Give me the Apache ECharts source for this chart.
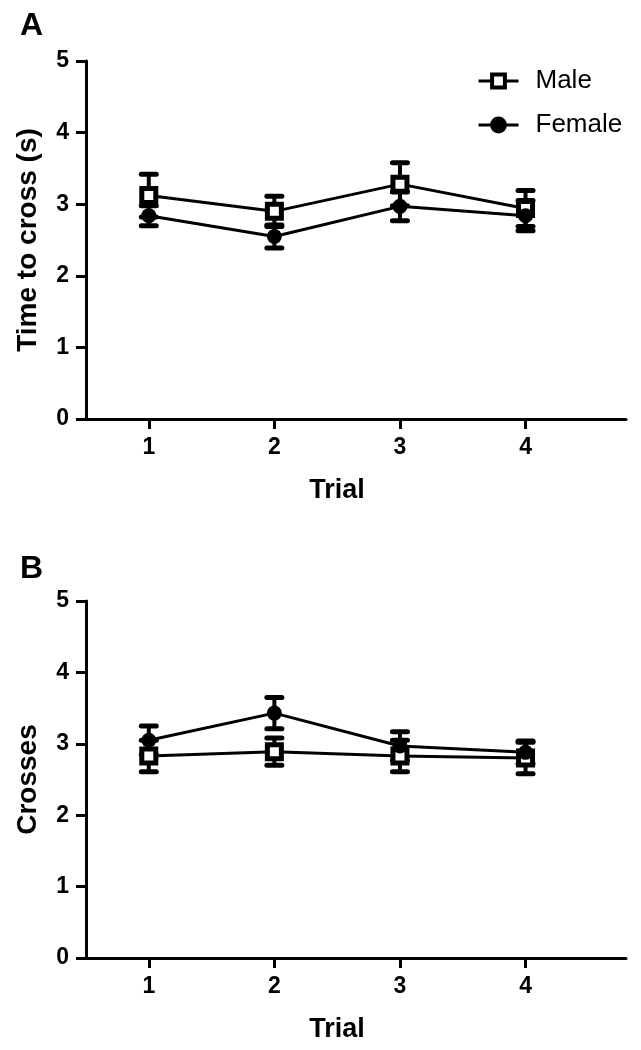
<!DOCTYPE html>
<html>
<head>
<meta charset="utf-8">
<script src="https://cdn.jsdelivr.net/npm/echarts@6/dist/echarts.min.js"></script>
<style>
html,body{margin:0;padding:0;background:#fff;}
#chart{width:641px;height:1050px;}
</style>
</head>
<body>
<div id="chart"></div>
<script>
const trials = [1, 2, 3, 4];
const yTicks = [0, 1, 2, 3, 4, 5];
// Panel A: Time to cross (s)
const maleTimeMean = [3.12, 2.90, 3.28, 2.94];
const maleTimeSem = [0.30, 0.21, 0.30, 0.25];
const femaleTimeMean = [2.84, 2.55, 2.97, 2.84];
const femaleTimeSem = [0.14, 0.16, 0.20, 0.21];
// Panel B: Crosses
const maleCrossMean = [2.83, 2.89, 2.83, 2.80];
const maleCrossSem = [0.22, 0.19, 0.22, 0.22];
const femaleCrossMean = [3.05, 3.43, 2.97, 2.88];
const femaleCrossSem = [0.20, 0.22, 0.20, 0.16];

const FONT = '"Liberation Sans", Arial, sans-serif';
const chart = echarts.init(document.getElementById('chart'), null, {renderer: 'canvas'});

function pts(mean) { return trials.map((t, i) => [t, mean[i]]); }
function errPts(mean, sem) { return trials.map((t, i) => [t, mean[i], sem[i]]); }

function errorSeries(name, mean, sem, idx) {
  return {
    type: 'custom',
    name: name + ' err',
    xAxisIndex: idx, yAxisIndex: idx,
    z: 1,
    silent: true,
    data: errPts(mean, sem),
    renderItem: function (params, api) {
      const x = api.value(0), y = api.value(1), e = api.value(2);
      const top = api.coord([x, y + e]);
      const bot = api.coord([x, y - e]);
      const hw = 7.5;
      const st = {stroke: '#000', lineWidth: 5, lineCap: 'round'};
      return {
        type: 'group',
        children: [
          {type: 'line', shape: {x1: top[0], y1: top[1], x2: bot[0], y2: bot[1]}, style: {stroke: '#000', lineWidth: 4}},
          {type: 'line', shape: {x1: top[0] - hw, y1: top[1], x2: top[0] + hw, y2: top[1]}, style: st},
          {type: 'line', shape: {x1: bot[0] - hw, y1: bot[1], x2: bot[0] + hw, y2: bot[1]}, style: st}
        ]
      };
    }
  };
}

function maleSeries(mean, idx) {
  return {
    type: 'line', name: 'Male', xAxisIndex: idx, yAxisIndex: idx, z: 3,
    data: pts(mean),
    symbol: 'rect', symbolSize: 14,
    lineStyle: {color: '#000', width: 3},
    itemStyle: {color: '#fff', borderColor: '#000', borderWidth: 5},
    emphasis: {disabled: true}
  };
}
function femaleSeries(mean, idx) {
  return {
    type: 'line', name: 'Female', xAxisIndex: idx, yAxisIndex: idx, z: 4,
    data: pts(mean),
    symbol: 'circle', symbolSize: 15,
    lineStyle: {color: '#000', width: 3},
    itemStyle: {color: '#000', borderColor: '#000', borderWidth: 0},
    emphasis: {disabled: true}
  };
}

function xAxisCfg(idx) {
  return {
    type: 'value', gridIndex: idx, min: 0.5, max: 4.8,
    name: 'Trial', nameLocation: 'middle', nameGap: 58,
    nameTextStyle: {fontFamily: FONT, fontWeight: 'bold', fontSize: 27, color: '#000', padding: [0, 38, 0, 0]},
    axisLine: {show: true, onZero: false, lineStyle: {color: '#000', width: 3}},
    axisTick: {show: true, length: 10, lineStyle: {color: '#000', width: 3}, customValues: trials},
    axisLabel: {fontFamily: FONT, fontWeight: 'bold', fontSize: 23, color: '#000', margin: 17, customValues: trials},
    splitLine: {show: false}
  };
}
function yAxisCfg(idx, name) {
  return {
    type: 'value', gridIndex: idx, min: 0, max: 5, interval: 1,
    name: name, nameLocation: 'middle', nameGap: 44,
    nameTextStyle: {fontFamily: FONT, fontWeight: 'bold', fontSize: 28, color: '#000'},
    axisLine: {show: true, lineStyle: {color: '#000', width: 3}},
    axisTick: {show: true, length: 10, lineStyle: {color: '#000', width: 3}},
    axisLabel: {fontFamily: FONT, fontWeight: 'bold', fontSize: 23, color: '#000', margin: 17,
      customValues: yTicks},
    splitLine: {show: false}
  };
}

chart.setOption({
  animation: false,
  backgroundColor: '#fff',
  title: [
    {text: 'A', left: 15, top: 5, textStyle: {fontFamily: FONT, fontWeight: 'bold', fontSize: 32, color: '#000'}},
    {text: 'B', left: 15, top: 548, textStyle: {fontFamily: FONT, fontWeight: 'bold', fontSize: 32, color: '#000'}}
  ],
  legend: {
    orient: 'vertical', left: 472, top: 62,
    itemWidth: 40, itemHeight: 16, itemGap: 16,
    data: ['Male', 'Female'],
    lineStyle: {width: 3, color: '#000'},
    itemStyle: {borderWidth: 4, borderColor: '#000'},
    textStyle: {fontFamily: FONT, fontSize: 26, color: '#000', lineHeight: 28, padding: [0, 0, 0, 12]},
    selectedMode: false
  },
  grid: [
    {left: 86, top: 61, width: 540, height: 358},
    {left: 86, top: 601, width: 540, height: 357}
  ],
  xAxis: [xAxisCfg(0), xAxisCfg(1)],
  yAxis: [yAxisCfg(0, 'Time to cross (s)'), yAxisCfg(1, 'Crosses')],
  series: [
    errorSeries('Male', maleTimeMean, maleTimeSem, 0),
    errorSeries('Female', femaleTimeMean, femaleTimeSem, 0),
    maleSeries(maleTimeMean, 0),
    femaleSeries(femaleTimeMean, 0),
    errorSeries('Male', maleCrossMean, maleCrossSem, 1),
    errorSeries('Female', femaleCrossMean, femaleCrossSem, 1),
    maleSeries(maleCrossMean, 1),
    femaleSeries(femaleCrossMean, 1)
  ]
});
</script>
</body>
</html>
